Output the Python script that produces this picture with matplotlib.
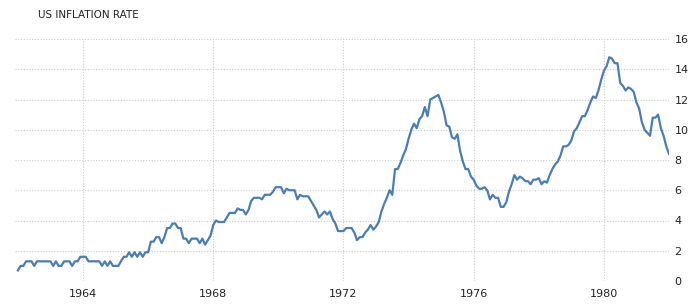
import numpy as np
import matplotlib.pyplot as plt

# US inflation rate (% yoy), monthly, Jan 1962 .. Jan 1982
inflacion = [
    0.7, 1.0, 1.0, 1.3, 1.3, 1.3, 1.0, 1.3, 1.3, 1.3, 1.3, 1.3,   # 1962
    1.3, 1.0, 1.3, 1.0, 1.0, 1.3, 1.3, 1.3, 1.0, 1.3, 1.3, 1.6,   # 1963
    1.6, 1.6, 1.3, 1.3, 1.3, 1.3, 1.3, 1.0, 1.3, 1.0, 1.3, 1.0,   # 1964
    1.0, 1.0, 1.3, 1.6, 1.6, 1.9, 1.6, 1.9, 1.6, 1.9, 1.6, 1.9,   # 1965
    1.9, 2.6, 2.6, 2.9, 2.9, 2.5, 2.9, 3.5, 3.5, 3.8, 3.8, 3.5,   # 1966
    3.5, 2.8, 2.8, 2.5, 2.8, 2.8, 2.8, 2.5, 2.8, 2.4, 2.7, 3.0,   # 1967
    3.7, 4.0, 3.9, 3.9, 3.9, 4.2, 4.5, 4.5, 4.5, 4.8, 4.7, 4.7,   # 1968
    4.4, 4.7, 5.3, 5.5, 5.5, 5.5, 5.4, 5.7, 5.7, 5.7, 5.9, 6.2,   # 1969
    6.2, 6.2, 5.8, 6.1, 6.0, 6.0, 6.0, 5.4, 5.7, 5.6, 5.6, 5.6,   # 1970
    5.3, 5.0, 4.7, 4.2, 4.4, 4.6, 4.4, 4.6, 4.1, 3.8, 3.3, 3.3,   # 1971
    3.3, 3.5, 3.5, 3.5, 3.2, 2.7, 2.9, 2.9, 3.2, 3.4, 3.7, 3.4,   # 1972
    3.6, 3.9, 4.6, 5.1, 5.5, 6.0, 5.7, 7.4, 7.4, 7.8, 8.3, 8.7,   # 1973
    9.4, 10.0, 10.4, 10.1, 10.7, 10.9, 11.5, 10.9, 12.0, 12.1, 12.2, 12.3,  # 1974
    11.8, 11.2, 10.3, 10.2, 9.5, 9.4, 9.7, 8.6, 7.9, 7.4, 7.4, 6.9,  # 1975
    6.7, 6.3, 6.1, 6.1, 6.2, 6.0, 5.4, 5.7, 5.5, 5.5, 4.9, 4.9,   # 1976
    5.2, 5.9, 6.4, 7.0, 6.7, 6.9, 6.8, 6.6, 6.6, 6.4, 6.7, 6.7,   # 1977
    6.8, 6.4, 6.6, 6.5, 7.0, 7.4, 7.7, 7.9, 8.3, 8.9, 8.9, 9.0,   # 1978
    9.3, 9.9, 10.1, 10.5, 10.9, 10.9, 11.3, 11.8, 12.2, 12.1, 12.6, 13.3,  # 1979
    13.9, 14.2, 14.8, 14.7, 14.4, 14.4, 13.1, 12.9, 12.6, 12.8, 12.7, 12.5,  # 1980
    11.8, 11.4, 10.5, 10.0, 9.8, 9.6, 10.8, 10.8, 11.0, 10.1, 9.6, 8.9,  # 1981
    8.4,  # 1982
]
anio_inicio = 1962
anios_ticks = [1964, 1968, 1972, 1976, 1980]
y_ticks = [0, 2, 4, 6, 8, 10, 12, 14, 16]

x = anio_inicio + np.arange(len(inflacion)) / 12

fig = plt.figure(figsize=(6.97, 3.07), dpi=100)
ax = fig.add_axes([15/697, 1 - 281/307, (669 - 15)/697, (281 - 39)/307])

ax.plot(x, inflacion, color='#4a7db3', lw=1.6, solid_joinstyle='round')

ax.set_xlim(1961.91, x[-1])
ax.set_ylim(0, 16)
ax.set_xticks(anios_ticks)
ax.set_xticklabels([str(a) for a in anios_ticks])
ax.set_yticks(y_ticks)

ax.yaxis.tick_right()
for s in ax.spines.values():
    s.set_visible(False)
ax.tick_params(length=0, labelsize=8, labelcolor='#222222')
ax.tick_params(axis='y', pad=4)
ax.tick_params(axis='x', pad=6)
ax.grid(True, color='#cccccc', ls=(0, (1, 1.5)), lw=0.8)
ax.set_axisbelow(True)

fig.text(38/697, 1 - 15/307, 'US INFLATION RATE', fontsize=7.5,
         color='#222222', va='center', ha='left')

fig.savefig('out.png', dpi=100)
